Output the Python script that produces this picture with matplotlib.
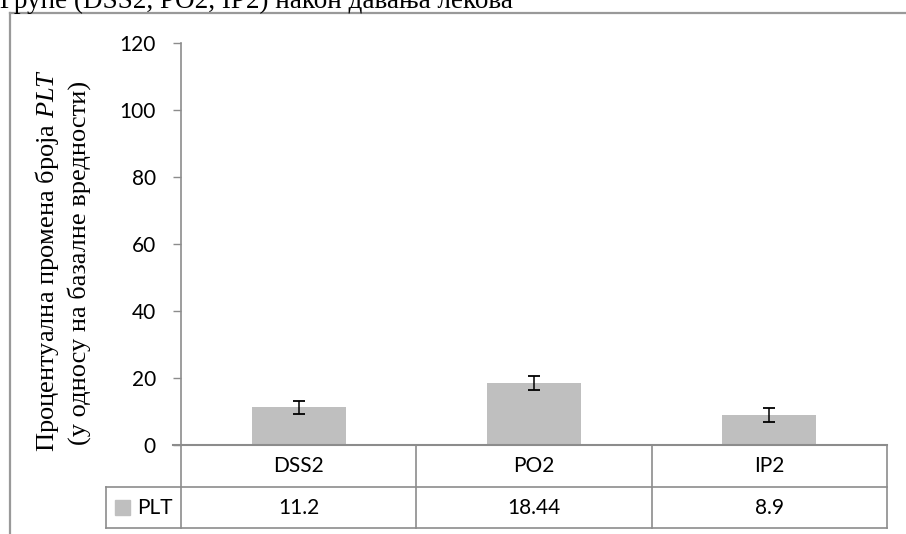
import numpy as np
import matplotlib
matplotlib.use("Agg")
import matplotlib.pyplot as plt

# podaci
kategorije = ["DSS2", "PO2", "IP2"]
plt_vrednosti = [11.2, 18.44, 8.9]
greske = [2.0, 2.1, 2.0]
serija = "PLT"
naslov = "Групе (DSS2, PO2, IP2) након давања лекова"
ylabel1 = r"Процентуална промена броја $\mathit{PLT}$"
ylabel2 = "(у односу на базалне вредности)"
y_tikovi = [0, 20, 40, 60, 80, 100, 120]

plt.rcParams["mathtext.fontset"] = "custom"
plt.rcParams["mathtext.it"] = "Liberation Serif:italic"
plt.rcParams["mathtext.rm"] = "Liberation Serif"

siva = "#8c8c8c"
boja_stubca = "#bfbfbf"
font_ose = "Lato"
font_serif = "Liberation Serif"

W, H = 906, 534
fig = plt.figure(figsize=(W / 100, H / 100), dpi=100)
ax = fig.add_axes([181 / W, 89 / H, 706 / W, 402.3 / H])

x = np.arange(len(kategorije))
ax.bar(x, plt_vrednosti, width=0.4, color=boja_stubca, zorder=2)
ax.errorbar(x, plt_vrednosti, yerr=greske, fmt="none", ecolor="black",
            elinewidth=1.1, capsize=4.6, capthick=1.3, zorder=3)

ax.set_xlim(-0.5, len(kategorije) - 0.5)
ax.set_ylim(0, 120)
ax.set_yticks(y_tikovi)
ax.set_yticklabels([str(t) for t in y_tikovi], fontsize=15, family=font_ose)
ax.set_xticks([])
ax.tick_params(axis="y", length=6, width=1, color=siva, pad=12)
for s in ["top", "right"]:
    ax.spines[s].set_visible(False)
ax.spines["left"].set_color(siva)
ax.spines["bottom"].set_color(siva)
ax.spines["left"].set_linewidth(1.2)
ax.spines["bottom"].set_linewidth(1.5)
ax.spines["bottom"].set_bounds(-0.535, len(kategorije) - 0.5)

# tabela ispod ose
tr = ax.get_xaxis_transform()
h_px = 402.3
r1 = -42 / h_px
r2 = -83 / h_px
leva = -0.82
desno = len(kategorije) - 0.5
kw = dict(color=siva, lw=1.2, transform=tr, clip_on=False)
ax.plot([leva, desno], [r1, r1], **kw)
ax.plot([leva, desno], [r2, r2], **kw)
ax.plot([leva, leva], [r1, r2], **kw)
for g in np.arange(len(kategorije) + 1) - 0.5:
    ax.plot([g, g], [0, r2], **kw)

for i, k in enumerate(kategorije):
    ax.text(i, r1 / 2, k, transform=tr, ha="center", va="center",
            fontsize=15, family=font_ose)
    ax.text(i, (r1 + r2) / 2, f"{plt_vrednosti[i]:g}", transform=tr,
            ha="center", va="center", fontsize=15, family=font_ose)

# legenda u tabeli
ax.add_patch(plt.Rectangle((leva + 0.04, (r1 + r2) / 2 - 7.5 / h_px), 0.064, 15 / h_px,
                           transform=tr, clip_on=False, color=boja_stubca))
ax.text(-0.535, (r1 + r2) / 2, serija, transform=tr, ha="right", va="center",
        fontsize=15, family=font_ose)

# okvir i naslov
fig.add_artist(plt.Line2D([10 / W, 10 / W], [0, 1 - 13 / H], color="#999999", lw=1.6))
fig.add_artist(plt.Line2D([10 / W, 1], [1 - 13 / H, 1 - 13 / H], color="#999999", lw=1.6))
fig.text(0, 1 - 8 / H, naslov, fontsize=19.5, family=font_serif, va="baseline")

fig.text(47 / W, 1 - 260 / H, ylabel1, rotation=90, fontsize=19, family=font_serif,
         ha="center", va="center")
fig.text(79 / W, 1 - 263 / H, ylabel2, rotation=90, fontsize=19, family=font_serif,
         ha="center", va="center")

fig.savefig("out.png", dpi=100)
